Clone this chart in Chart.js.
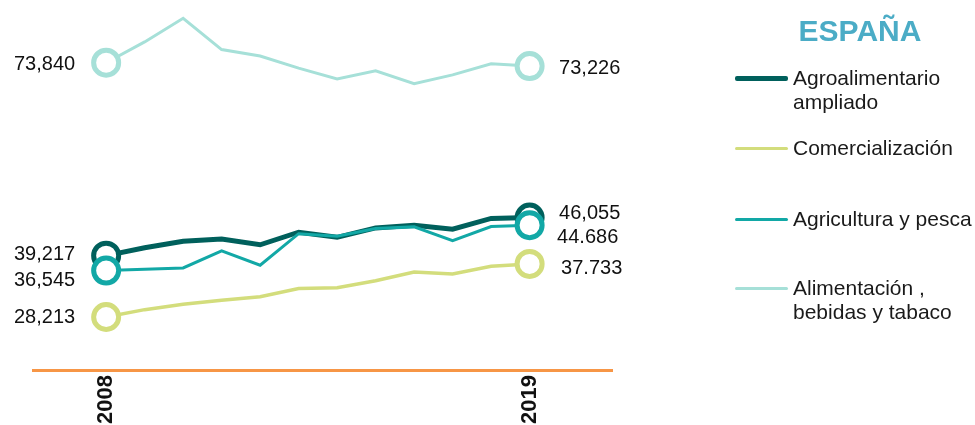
<!DOCTYPE html>
<html>
<head>
<meta charset="utf-8">
<script src="https://cdn.jsdelivr.net/npm/chart.js@4/dist/chart.umd.min.js"></script>
<style>
html,body{margin:0;padding:0;background:#fff;}
#wrap{position:relative;width:975px;height:425px;overflow:hidden;font-family:"Liberation Sans",Arial,sans-serif;}
#c{position:absolute;left:0;top:0;}
#title{position:absolute;left:760px;width:200px;top:12px;text-align:center;font-weight:bold;font-size:30px;line-height:38px;color:#4BACC6;}
.item{position:absolute;left:735px;width:240px;height:60px;}
.swatch{position:absolute;left:0;width:53px;border-radius:2px;}
.lbl{position:absolute;left:58px;top:0;font-size:21px;line-height:24px;color:#1a1a1a;white-space:nowrap;}
</style>
</head>
<body>
<div id="wrap">
<canvas id="c" width="975" height="425"></canvas>
<div id="title"></div>
<div id="legend"></div>
</div>
<script>
// ---- data ----
const titleText = "ESPAÑA";
const years = [2008, 2009, 2010, 2011, 2012, 2013, 2014, 2015, 2016, 2017, 2018, 2019];
const tickYears = [2008, 2019];
const seriesNames = ["Agroalimentario ampliado", "Comercialización", "Agricultura y pesca", "Alimentación , bebidas y tabaco"];
const legendLines = [["Agroalimentario", "ampliado"], ["Comercialización"], ["Agricultura y pesca"], ["Alimentación ,", "bebidas y tabaco"]];
const agroampliado = [39.217, 40.63, 41.79, 42.21, 41.17, 43.42, 42.51, 44.20, 44.69, 43.96, 45.90, 46.055];
const comercializacion = [28.213, 29.53, 30.49, 31.22, 31.83, 33.33, 33.46, 34.73, 36.28, 35.92, 37.32, 37.733];
const agricultura = [36.545, 36.77, 37.01, 40.09, 37.50, 43.16, 42.69, 44.07, 44.38, 41.90, 44.43, 44.686];
const alimentacion = [73.840, 77.57, 81.80, 76.19, 75.03, 72.86, 70.94, 72.39, 70.09, 71.66, 73.66, 73.226];
const startLabels = ["39,217", "28,213", "36,545", "73,840"];
const endLabels = ["46,055", "37.733", "44.686", "73,226"];

// ---- styles ----
const colors = ["#00605C", "#D3DD7C", "#12A8A6", "#A6E0D8"];
const lineWidths = [5, 3.5, 3, 3];
const legendWidths = [5, 3, 3, 3];
const drawOrder = [1, 2, 0, 3];
const legendY = [78, 148, 219, 288];
const startDy = [-1.5, 1, 10, 1.5];
const endDx = [29.5, 31.5, 27.5, 29.5];
const endDy = [-4, 5, 12, 2];

const seriesValues = [agroampliado, comercializacion, agricultura, alimentacion];

document.getElementById('title').textContent = titleText;
const legendEl = document.getElementById('legend');
seriesNames.forEach((name, i) => {
  const item = document.createElement('div');
  item.className = 'item';
  item.style.top = (legendY[i] - 12) + 'px';
  const sw = document.createElement('div');
  sw.className = 'swatch';
  sw.style.height = legendWidths[i] + 'px';
  sw.style.top = (12 - legendWidths[i] / 2) + 'px';
  sw.style.background = colors[i];
  const lb = document.createElement('div');
  lb.className = 'lbl';
  lb.innerHTML = legendLines[i].map(s => s.replace(/&/g,'&amp;').replace(/</g,'&lt;')).join('<br>');
  item.appendChild(sw);
  item.appendChild(lb);
  legendEl.appendChild(item);
});

const endPointRadius = years.map((y, i) => (i === 0 || i === years.length - 1) ? 12.5 : 0);

const datasets = seriesValues.map((vals, i) => ({
  label: seriesNames[i],
  data: years.map((y, j) => ({x: y, y: vals[j]})),
  borderColor: colors[i],
  borderWidth: lineWidths[i],
  pointRadius: endPointRadius,
  pointHoverRadius: endPointRadius,
  pointBorderWidth: 5,
  pointBorderColor: colors[i],
  pointBackgroundColor: '#ffffff',
  tension: 0,
  fill: false,
  clip: false,
  order: drawOrder[i]
}));

const labelPlugin = {
  id: 'endLabels',
  afterDatasetsDraw(chart) {
    const ctx = chart.ctx;
    ctx.save();
    ctx.font = '20px "Liberation Sans", Arial, sans-serif';
    ctx.fillStyle = '#111111';
    ctx.textBaseline = 'middle';
    chart.data.datasets.forEach((ds, i) => {
      const meta = chart.getDatasetMeta(i);
      const p0 = meta.data[0];
      const p1 = meta.data[meta.data.length - 1];
      ctx.textAlign = 'right';
      ctx.fillText(startLabels[i], p0.x - 31, p0.y + startDy[i]);
      ctx.textAlign = 'left';
      ctx.fillText(endLabels[i], p1.x + endDx[i], p1.y + endDy[i]);
    });
    ctx.restore();
  }
};

new Chart(document.getElementById('c'), {
  type: 'line',
  data: { datasets: datasets },
  plugins: [labelPlugin],
  options: {
    responsive: false,
    animation: false,
    layout: { padding: { left: 33, right: 363, top: 0, bottom: 0 } },
    plugins: { legend: { display: false }, tooltip: { enabled: false } },
    scales: {
      x: {
        type: 'linear',
        min: 2006.1,
        max: 2021.14,
        afterBuildTicks: (scale) => { scale.ticks = tickYears.map(v => ({ value: v })); },
        afterFit: (scale) => { scale.height = 55; },
        grid: { display: false },
        border: { display: true, color: '#F79646', width: 3 },
        ticks: {
          autoSkip: false,
          maxRotation: 90,
          minRotation: 90,
          padding: -3,
          color: '#111111',
          font: { family: '"Liberation Sans", Arial, sans-serif', size: 22, weight: 'bold' },
          callback: (v) => String(v)
        }
      },
      y: {
        display: false,
        min: 18.7,
        max: 81.95
      }
    }
  }
});
</script>
</body>
</html>
